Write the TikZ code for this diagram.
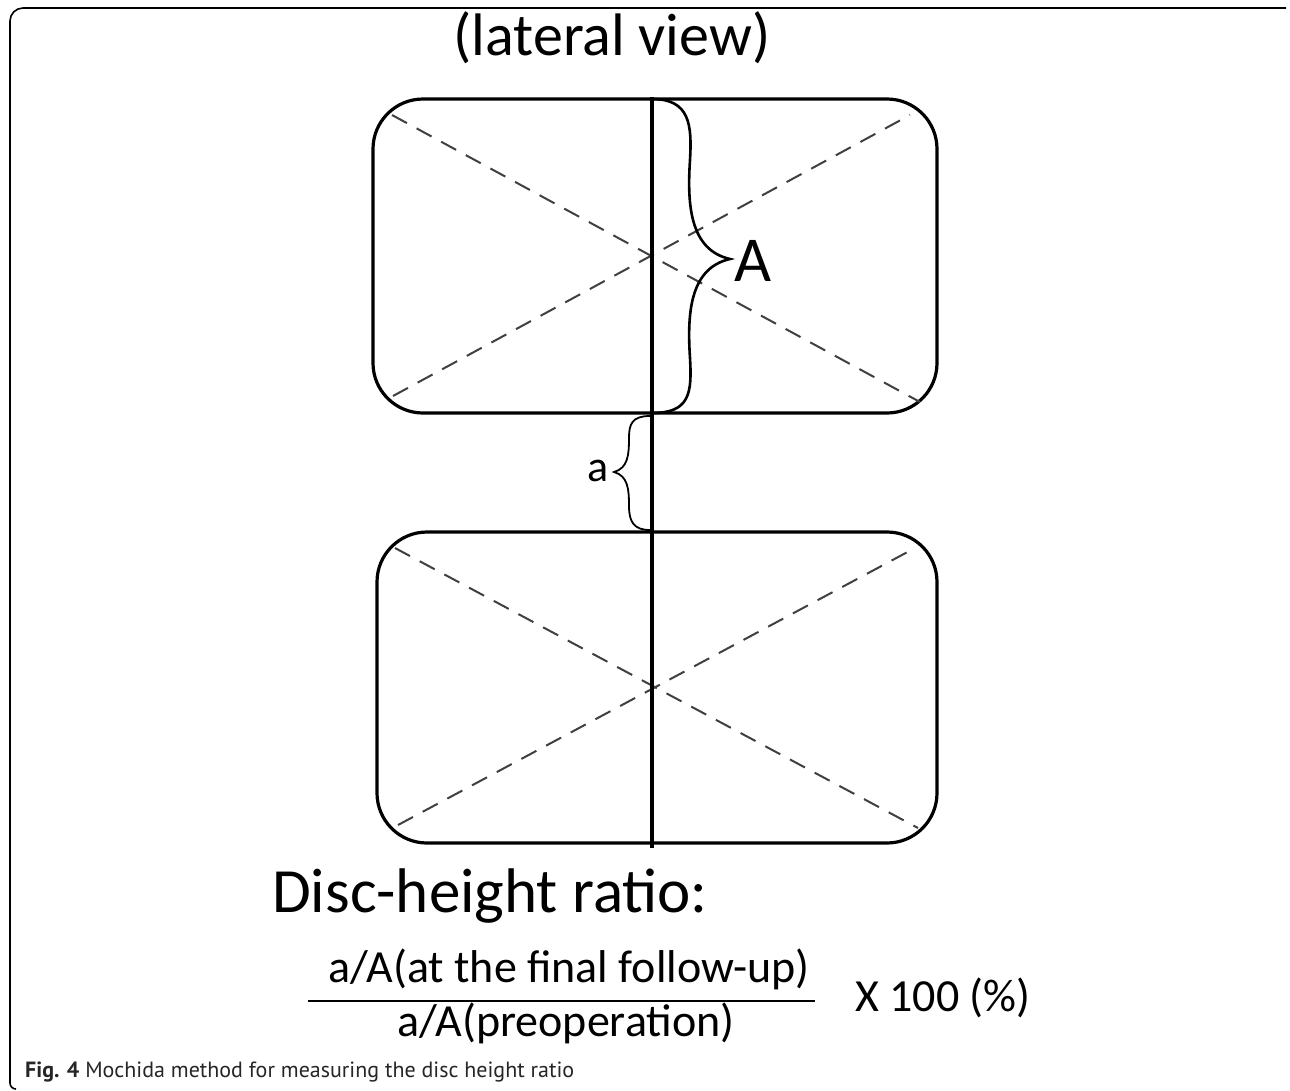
\documentclass[tikz,border=0pt]{standalone}
\usepackage{fontspec}
\setmainfont{Carlito}
\newfontfamily\capfont{PT Sans}
\begin{document}
\begin{tikzpicture}[x=1pt,y=-1pt,
  boxline/.style={line width=3.2pt,rounded corners=50pt},
  diag/.style={line width=2pt,draw=black!75,dash pattern=on 17pt off 11pt},
  bracel/.style={line width=2.6pt},
  frameline/.style={line width=1.6pt}]
\useasboundingbox (0,0) rectangle (1290,1090);
\fill[white] (0,0) rectangle (1290,1090);
% frame
\draw[frameline] (16,1089) arc[start angle=90,end angle=180,radius=6] -- (10,21) arc[start angle=180,end angle=270,radius=13] -- (1286,8);
% boxes
\draw[boxline] (373,99) rectangle (937,413);
\draw[boxline] (377,532) rectangle (937,843);
% diagonals
\coordinate (t1) at (392,115); \coordinate (t2) at (920,402);
\coordinate (t3) at (393,396); \coordinate (t4) at (910,115);
\coordinate (b1) at (395,548); \coordinate (b2) at (918,828);
\coordinate (b3) at (398,825); \coordinate (b4) at (915,548);
\draw[diag] (t1) -- (t2);
\draw[diag] (t3) -- (t4);
\draw[diag] (b1) -- (b2);
\draw[diag] (b3) -- (b4);
% vertical line
\coordinate (vtop) at (652,97); \coordinate (vbot) at (652,848);
\draw[line width=3.6pt] (vtop) -- (vbot);
% brace A
\draw[bracel] (652,99) .. controls (690,99) and (692,125) .. (690,160)
  .. controls (687,205) and (690,250) .. (730,259)
  .. controls (690,268) and (687,313) .. (690,358)
  .. controls (692,393) and (690,413) .. (652,413);
\node[font=\fontsize{64}{70}\selectfont,inner sep=0pt] (A) at (753,261) {A};
% brace a
\draw[line width=1.8pt] (650,416) .. controls (632,416) and (629,424) .. (629,438)
  .. controls (629,455) and (628,468) .. (614,472)
  .. controls (628,476) and (629,489) .. (629,506)
  .. controls (629,522) and (634,530) .. (650,530);
\node[font=\fontsize{44}{50}\selectfont,inner sep=0pt] (a) at (598,471) {a};
% title
\node[font=\fontsize{60}{66}\selectfont,inner sep=0pt] (title) at (612,38) {(lateral view)};
% formula
\node[font=\fontsize{63}{70}\selectfont,inner sep=0pt,anchor=base west] (dhr) at (272,912) {Disc-height ratio:};
\node[font=\fontsize{46}{50}\selectfont,inner sep=0pt,anchor=base] (num) at (569,982) {a/A(at the final follow-up)};
\node[font=\fontsize{46}{50}\selectfont,inner sep=0pt,anchor=base] (den) at (566,1036) {a/A(preoperation)};
\draw[line width=1.6pt] (308,1001) -- (815,1001);
\node[font=\fontsize{46}{50}\selectfont,inner sep=0pt,anchor=base west] (x100) at (855,1011) {X 100 (\%)};
% caption
\node[font=\capfont\fontsize{22}{26}\selectfont,inner sep=0pt,anchor=base west,text=black!85] (cap) at (25,1077) {\textbf{Fig. 4} Mochida method for measuring the disc height ratio};
\end{tikzpicture}
\end{document}
